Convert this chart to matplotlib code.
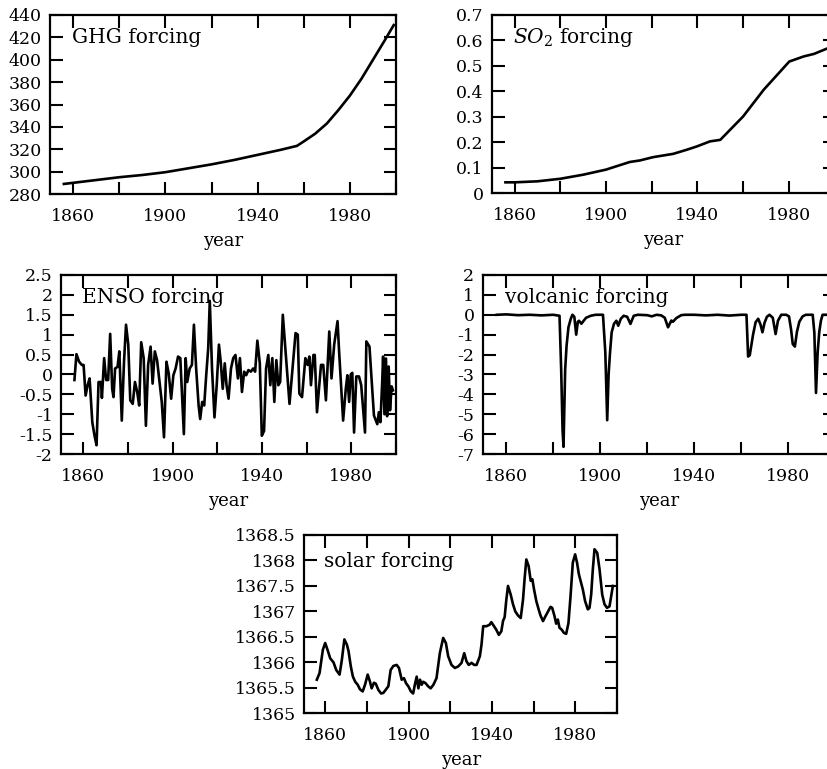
import matplotlib
matplotlib.use("Agg")
import matplotlib.pyplot as plt
from matplotlib.ticker import FormatStrFormatter

plt.rcParams["font.family"] = "DejaVu Serif"
plt.rcParams["mathtext.fontset"] = "dejavuserif"
plt.rcParams["axes.unicode_minus"] = False

# -------------------- data --------------------
ghg_years = [1856, 1860, 1870, 1880, 1890, 1900, 1910, 1920, 1930, 1940,
             1950, 1957, 1960, 1965, 1970, 1975, 1980, 1985, 1990, 1995, 1999]
ghg_vals = [289, 290, 292.5, 295, 297, 299.5, 303, 306.5, 310.5, 315,
            319.5, 323, 327, 334, 343, 355, 368, 383, 400, 417, 431]

so2_years = [1856, 1860, 1870, 1880, 1890, 1900, 1904.5, 1910.4, 1914.8,
             1920.6, 1929.4, 1935.3, 1939.7, 1945.5, 1950, 1960, 1969,
             1980.2, 1986.5, 1991, 1997]
so2_vals = [0.042, 0.042, 0.046, 0.056, 0.072, 0.092, 0.105, 0.122, 0.128,
            0.141, 0.154, 0.170, 0.183, 0.203, 0.209, 0.301, 0.406,
            0.517, 0.537, 0.547, 0.569]

enso_years = [1856.0, 1856.9, 1858.1, 1859.3, 1860.1, 1861.0, 1861.9, 1862.8,
              1864.0, 1865.0, 1865.9, 1866.8, 1867.9, 1868.3, 1869.3, 1870.2,
              1871.1, 1872.0, 1872.9, 1873.5, 1874.2, 1875.3, 1876.1, 1877.2,
              1878.2, 1879.1, 1880.1, 1881.0, 1882.1, 1883.1, 1884.1, 1885.0,
              1885.9, 1887.0, 1888.0, 1889.0, 1890.1, 1891.0, 1892.0, 1893.0,
              1894.1, 1895.1, 1896.1, 1897.2, 1898.2, 1899.3, 1900.3, 1901.3,
              1902.4, 1903.4, 1905.0, 1905.8, 1906.5, 1907.6, 1908.6, 1909.5,
              1910.5, 1911.6, 1912.3, 1913.2, 1914.1, 1915.0, 1915.9, 1916.6,
              1917.6, 1918.7, 1919.7, 1920.7, 1921.5, 1922.4, 1923.3, 1924.1,
              1925.0, 1926.1, 1927.1, 1928.1, 1929.2, 1930.1, 1931.0, 1932.0,
              1932.9, 1933.9, 1935.0, 1936.0, 1936.9, 1937.9, 1939.0, 1939.9,
              1940.9, 1941.8, 1942.8, 1943.7, 1944.6, 1945.5, 1946.4, 1947.3,
              1948.1, 1949.3, 1952.3, 1955.0, 1956.0, 1956.7, 1957.9, 1959.4,
              1960.4, 1961.2, 1961.9, 1963.0, 1963.6, 1964.6, 1966.4, 1967.4,
              1968.6, 1970.1, 1971.1, 1972.3, 1973.8, 1974.5, 1976.3, 1977.5,
              1978.2, 1979.0, 1979.7, 1980.4, 1981.2, 1982.2, 1983.4, 1984.4,
              1986.1, 1986.7, 1988.1, 1990.1, 1991.6, 1992.3, 1993.0, 1993.8,
              1994.2, 1994.8, 1995.5, 1996.0, 1996.7, 1997.3, 1998.0, 1998.6]
enso_vals = [-0.14, 0.51, 0.32, 0.24, 0.24, -0.53, -0.27, -0.10,
             -1.20, -1.54, -1.78, -0.19, -0.19, -0.59, 0.41, -0.14,
             -0.14, 1.02, -0.36, -0.57, 0.15, 0.19, 0.58, -1.16,
             0.32, 1.25, 0.75, -0.65, -0.74, -0.19, -0.44, -0.78,
             0.81, 0.41, -1.29, 0.24, 0.70, -0.23, 0.58, 0.36,
             -0.19, -0.69, -1.58, 0.32, 0.03, -0.61, -0.02, 0.15,
             0.45, 0.41, -1.50, 0.41, -0.19, 0.15, 0.24, 1.25,
             0.15, -0.78, -1.12, -0.69, -0.78, -0.02, 0.66, 1.85,
             0.15, -1.08, -0.27, 0.75, 0.32, -0.36, 0.28, -0.27,
             -0.61, 0.15, 0.41, 0.49, -0.10, 0.41, -0.44, 0.07,
             -0.02, 0.11, 0.07, 0.15, 0.07, 0.85, 0.28, -1.54,
             -1.42, 0.15, 0.49, -0.27, 0.41, -0.69, 0.36, -0.27,
             -0.19, 1.50, -0.74, 1.04, 1.00, -0.48, -0.57, 0.41,
             0.24, 0.45, -0.27, 0.49, 0.49, -0.95, 0.24, 0.24,
             -0.65, 1.08, -0.10, 0.75, 1.34, 0.58, -1.16, -0.36,
             -0.02, -0.69, 0.00, 0.04, -1.46, -0.05, -0.05, -0.27,
             -1.46, 0.83, 0.70, -1.03, -1.25, -0.95, -1.20, -0.20,
             0.45, -1.00, 0.40, -1.05, 0.20, -0.90, -0.30, -0.40]

volc_years = [1856, 1860, 1865, 1870, 1875, 1880, 1882.7, 1883.4, 1884.0,
              1884.4, 1885.1, 1885.7, 1886.5, 1887.5, 1888.2, 1889.0, 1889.8,
              1890.5, 1891.0, 1892.0, 1893.0, 1894.0, 1896.0, 1898.0, 1901.2,
              1902.2, 1903.0, 1903.6, 1904.2, 1904.9, 1905.9, 1906.9, 1907.7,
              1908.8, 1910.0, 1911.5, 1912.9, 1914.3, 1916.0, 1920.0, 1922.0,
              1924.0, 1926.0, 1927.5, 1928.9, 1930.3, 1931.0, 1932.4, 1934.5,
              1936.0, 1940.0, 1945.0, 1950.0, 1955.0, 1960.0, 1962.3, 1963.0,
              1963.7, 1965.1, 1966.2, 1967.3, 1968.3, 1969.1, 1970.0, 1971.0,
              1972.1, 1973.5, 1974.7, 1975.7, 1977.1, 1979.2, 1980.4, 1981.3,
              1982.0, 1982.9, 1983.8, 1984.8, 1986.2, 1987.6, 1990.5, 1991.2,
              1991.9, 1992.6, 1993.3, 1994.0, 1994.7, 1996.0, 1999.0]
volc_vals = [0.0, 0.02, -0.02, 0.0, -0.03, 0.0, -0.05, -2.75, -5.8,
             -6.64, -2.75, -1.56, -0.63, -0.2, 0.0, -0.1, -1.0,
             -0.35, -0.3, -0.45, -0.3, -0.15, -0.05, 0.0, 0.0,
             -1.9, -5.3, -3.0, -1.9, -0.88, -0.45, -0.3, -0.55,
             -0.2, -0.05, -0.1, -0.46, -0.05, 0.0, -0.02, -0.08,
             0.0, -0.03, -0.15, -0.63, -0.29, -0.35, -0.17, -0.02,
             0.0, 0.0, -0.03, 0.0, -0.04, 0.0, 0.0, -2.1,
             -2.03, -1.0, -0.37, -0.2, -0.5, -0.88, -0.4, -0.1,
             0.0, -0.15, -0.97, -0.3, 0.0, 0.0, -0.08, -0.75,
             -1.47, -1.6, -0.85, -0.35, -0.08, 0.0, 0.0, -0.9,
             -3.93, -1.9, -0.85, -0.3, 0.0, 0.0, 0.0]

solar_years = [1856.0, 1857.3, 1858.9, 1860.0, 1861.1, 1862.4, 1864.0, 1865.3,
               1866.9, 1868.0, 1869.2, 1870.4, 1871.2, 1872.3, 1873.3, 1874.4,
               1875.6, 1876.7, 1878.0, 1879.1, 1880.4, 1881.5, 1882.3, 1883.4,
               1884.3, 1885.5, 1886.8, 1887.9, 1889.0, 1890.3, 1891.4, 1892.7,
               1894.3, 1895.4, 1896.7, 1897.8, 1898.8, 1899.9, 1901.1, 1902.2,
               1903.0, 1903.9, 1904.7, 1905.5, 1906.3, 1907.0, 1908.2, 1909.4,
               1910.6, 1911.9, 1913.4, 1915.0, 1916.6, 1917.9, 1919.0, 1920.6,
               1922.2, 1923.8, 1925.4, 1926.7, 1927.8, 1928.9, 1930.2, 1931.5,
               1932.6, 1934.2, 1935.0, 1935.8, 1937.4, 1938.9, 1939.7, 1941.0,
               1942.1, 1943.3, 1944.5, 1945.3, 1946.1, 1946.9, 1947.7, 1949.0,
               1950.1, 1951.2, 1952.5, 1953.8, 1954.9, 1955.7, 1956.5, 1957.6,
               1958.6, 1959.4, 1960.2, 1961.3, 1962.4, 1963.3, 1964.5, 1965.6,
               1966.9, 1968.1, 1968.9, 1970.0, 1970.8, 1971.6, 1972.4, 1973.5,
               1974.5, 1975.6, 1976.7, 1977.7, 1978.8, 1979.9, 1980.8, 1981.7,
               1982.8, 1983.6, 1984.7, 1986.0, 1986.8, 1987.6, 1988.4, 1989.2,
               1990.5, 1991.6, 1992.9, 1994.0, 1995.2, 1996.4, 1997.2, 1998.0]
solar_vals = [1365.66, 1365.79, 1366.25, 1366.38, 1366.25, 1366.08, 1366.00, 1365.85,
              1365.76, 1366.05, 1366.45, 1366.35, 1366.22, 1365.92, 1365.72, 1365.62,
              1365.56, 1365.47, 1365.43, 1365.56, 1365.76, 1365.62, 1365.49, 1365.60,
              1365.58, 1365.46, 1365.39, 1365.40, 1365.46, 1365.53, 1365.85, 1365.93,
              1365.95, 1365.89, 1365.66, 1365.69, 1365.59, 1365.53, 1365.43, 1365.39,
              1365.56, 1365.72, 1365.49, 1365.66, 1365.56, 1365.62, 1365.59, 1365.53,
              1365.49, 1365.56, 1365.69, 1366.18, 1366.48, 1366.38, 1366.12, 1365.95,
              1365.89, 1365.92, 1365.99, 1366.18, 1366.02, 1365.95, 1365.99, 1365.95,
              1365.95, 1366.12, 1366.35, 1366.71, 1366.71, 1366.74, 1366.79, 1366.71,
              1366.64, 1366.54, 1366.61, 1366.81, 1366.89, 1367.23, 1367.50, 1367.33,
              1367.14, 1367.00, 1366.92, 1366.87, 1367.23, 1367.66, 1368.02, 1367.89,
              1367.60, 1367.63, 1367.43, 1367.20, 1367.04, 1366.92, 1366.81, 1366.90,
              1367.00, 1367.09, 1367.07, 1366.91, 1366.76, 1366.84, 1366.68, 1366.64,
              1366.58, 1366.56, 1366.77, 1367.30, 1367.96, 1368.12, 1367.96, 1367.73,
              1367.56, 1367.43, 1367.20, 1367.04, 1367.07, 1367.33, 1367.83, 1368.22,
              1368.15, 1367.83, 1367.33, 1367.14, 1367.07, 1367.10, 1367.30, 1367.50]

year_ticks = [1860, 1900, 1940, 1980]
year_minor = [1880, 1920, 1960, 2000]


def style_panel(ax, yticks, label, label_y=0.875):
    ax.set_xlim(1850, 2000)
    ax.set_ylim(yticks[0], yticks[-1])
    ax.set_xticks(year_ticks)
    ax.set_xticks(year_minor, minor=True)
    ax.set_yticks(yticks)
    ax.yaxis.set_major_formatter(FormatStrFormatter("%g"))
    ax.tick_params(which="both", direction="in", top=True, right=True,
                   length=9, width=1.5, labelsize=12.5)
    ax.tick_params(axis="x", which="major", pad=10)
    ax.tick_params(axis="y", which="major", pad=6)
    for s in ax.spines.values():
        s.set_linewidth(1.6)
    ax.set_xlabel("year", fontsize=13, labelpad=5)
    ax.text(0.063, label_y, label, transform=ax.transAxes, fontsize=14.5,
            va="center", ha="left")


def main():
    fig = plt.figure(figsize=(8.27, 7.69), dpi=100)

    ax1 = fig.add_axes([0.0605, 0.7477, 0.4184, 0.2328])
    ax1.plot(ghg_years, ghg_vals, color="black", lw=1.9)
    style_panel(ax1, list(range(280, 441, 20)), "GHG forcing")

    ax2 = fig.add_axes([0.5946, 0.7490, 0.4145, 0.2315])
    ax2.plot(so2_years, so2_vals, color="black", lw=1.9)
    style_panel(ax2, [0, 0.1, 0.2, 0.3, 0.4, 0.5, 0.6, 0.7], r"$SO_2$ forcing")

    ax3 = fig.add_axes([0.0738, 0.4096, 0.4051, 0.2328])
    ax3.plot(enso_years, enso_vals, color="black", lw=1.9)
    style_panel(ax3, [-2, -1.5, -1, -0.5, 0, 0.5, 1, 1.5, 2, 2.5], "ENSO forcing")

    ax4 = fig.add_axes([0.5837, 0.4096, 0.4260, 0.2328])
    ax4.plot(volc_years, volc_vals, color="black", lw=1.9)
    style_panel(ax4, list(range(-7, 3)), "volcanic forcing")

    ax5 = fig.add_axes([0.3680, 0.0724, 0.3781, 0.2319])
    ax5.plot(solar_years, solar_vals, color="black", lw=1.9)
    style_panel(ax5, [1365, 1365.5, 1366, 1366.5, 1367, 1367.5, 1368, 1368.5],
                "solar forcing", label_y=0.85)

    fig.savefig("out.png", dpi=100)


if __name__ == "__main__":
    main()
